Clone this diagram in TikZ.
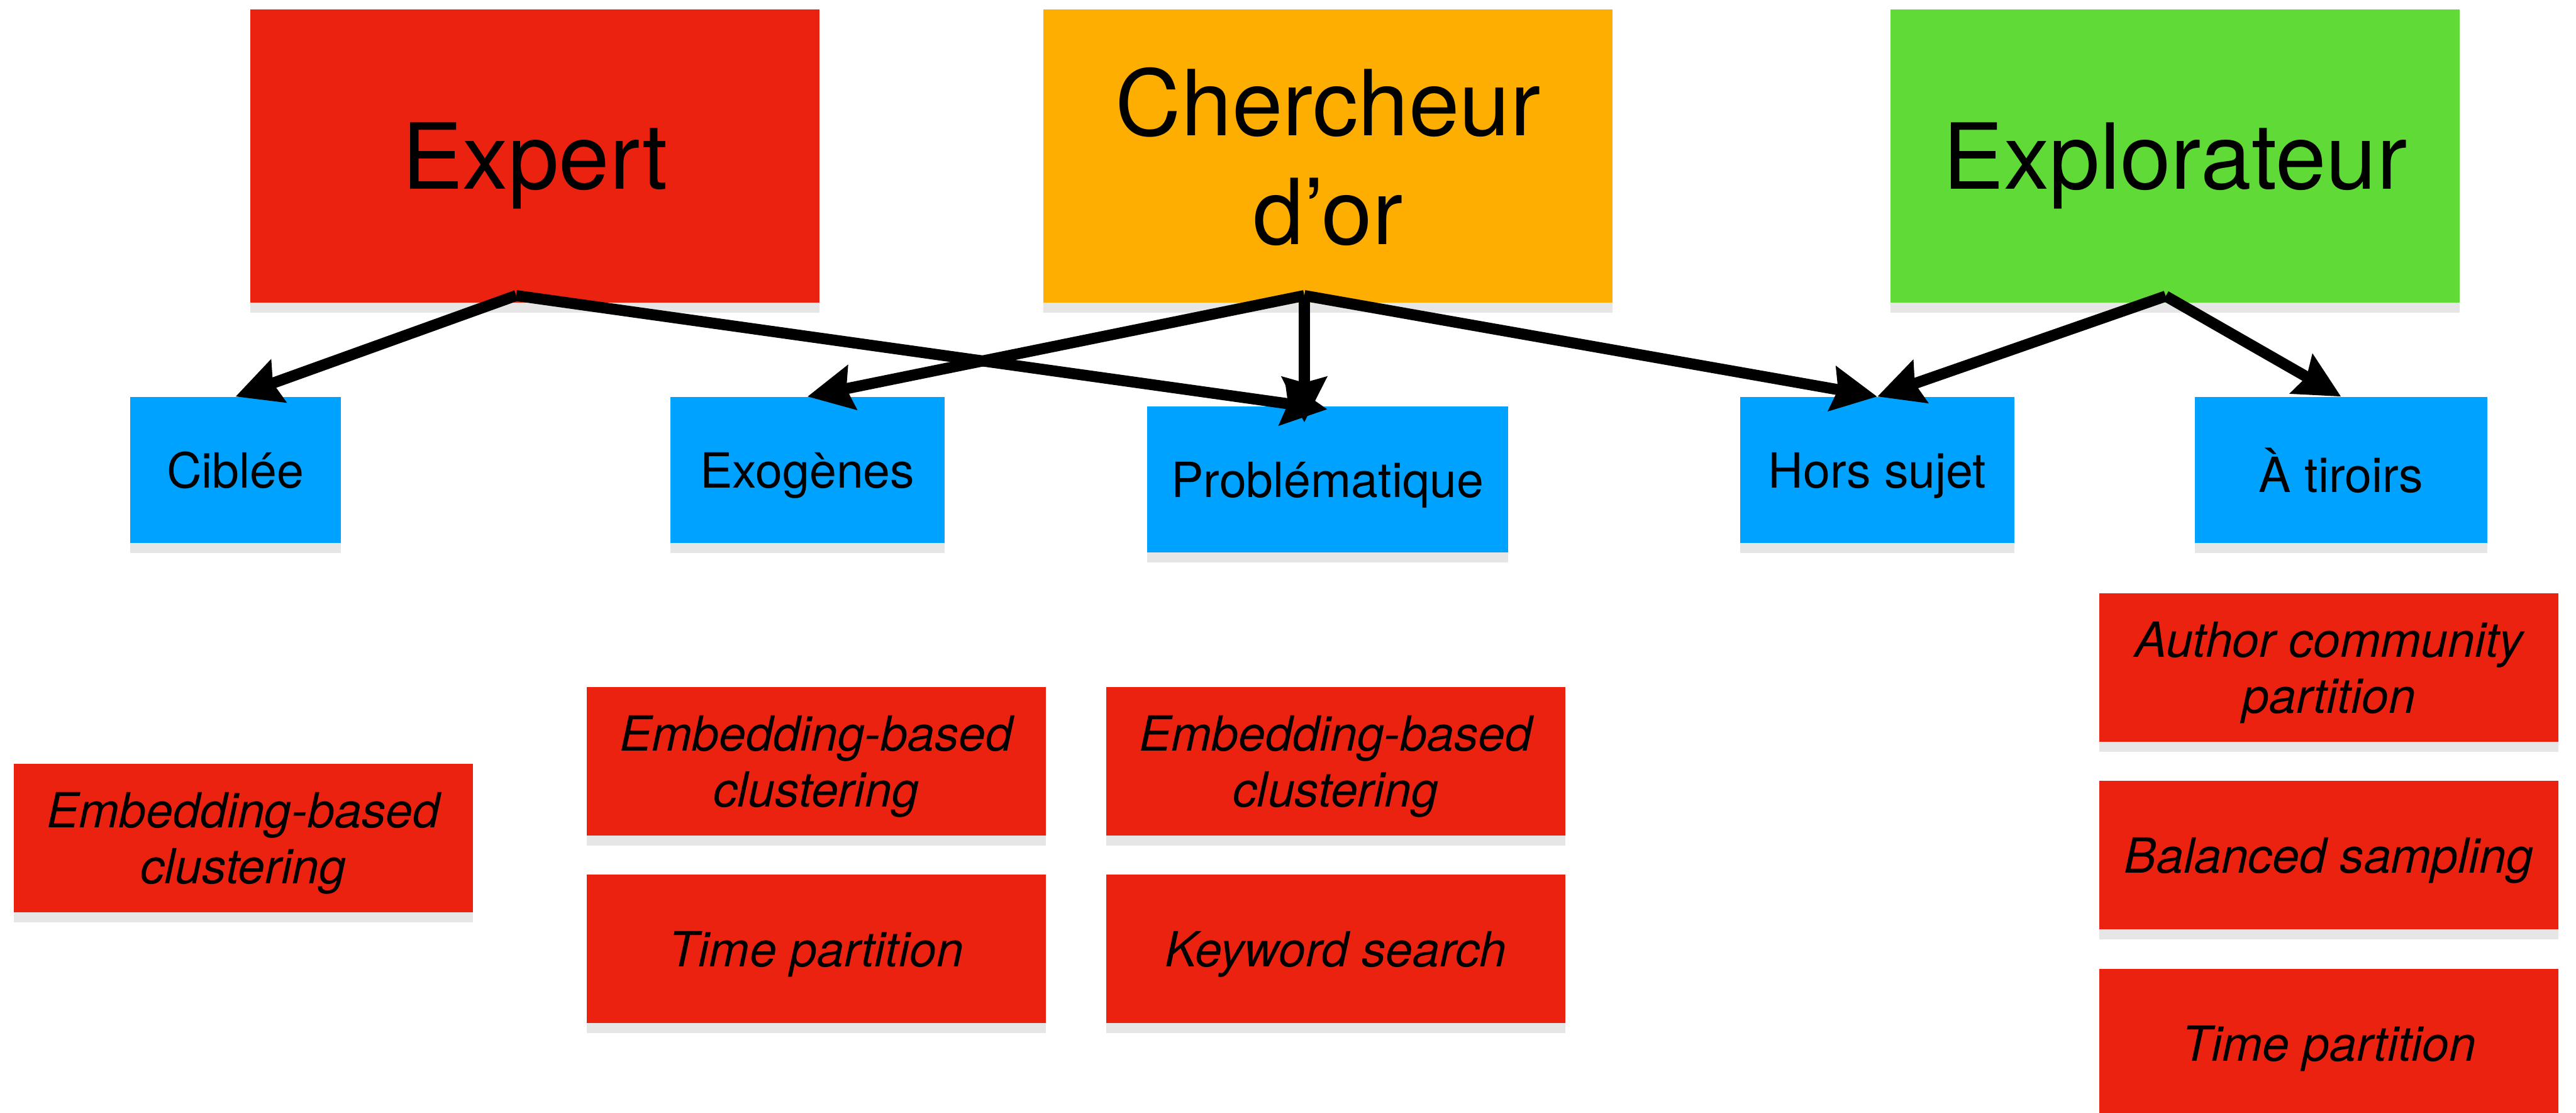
\documentclass[tikz,border=0pt]{standalone}
\usepackage{fontspec}
\setmainfont{TeX Gyre Heros}
\usetikzlibrary{positioning,arrows.meta,shadows}
\definecolor{keyred}{RGB}{236, 34, 16}
\definecolor{keyorange}{RGB}{253, 174, 0}
\definecolor{keygreen}{RGB}{95, 218, 55}
\definecolor{keyblue}{RGB}{0, 162, 255}

\begin{document}
\begin{tikzpicture}[
    box/.style={rectangle, inner sep=0pt, align=center, text=black, text depth=0pt,
        drop shadow={shadow xshift=0pt, shadow yshift=-0.18cm, opacity=0.2}},
    profile/.style={box, minimum width=10.32cm, minimum height=5.32cm, font=\fontsize{47}{56}\selectfont},
    typebox/.style={box, fill=keyblue, minimum height=2.65cm, font=\fontsize{25}{30}\selectfont},
    method/.style={box, fill=keyred, minimum width=8.32cm, minimum height=2.69cm, font=\fontsize{25}{29}\selectfont\itshape},
    link/.style={-{Stealth[length=0.82cm, width=0.8cm, inset=0.1cm]}, line width=0.2cm}]

    \useasboundingbox (0,0) rectangle (46.71,-20.17);

    \node [profile, fill=keyred] (expert) at (9.70,-2.83) {Expert};
    \node [profile, fill=keyorange] (chercheur) at (24.08,-2.83) {Chercheur\\d’or};
    \node [profile, fill=keygreen] (explorateur) at (39.44,-2.83) {Explorateur};

    \node [typebox, minimum width=3.83cm] (ciblee) at (4.27,-8.52) {Ciblée};
    \node [typebox, minimum width=4.97cm] (exogenes) at (14.64,-8.52) {Exogènes};
    \node [typebox, minimum width=6.55cm] (problematique) at (24.07,-8.69) {Problématique};
    \node [typebox, minimum width=4.97cm] (horssujet) at (34.04,-8.52) {Hors sujet};
    \node [typebox, minimum width=5.31cm] (tiroirs) at (42.45,-8.52) {À tiroirs};

    \node [method] (ciblee-emb) at (4.41,-15.19) {Embedding-based\\clustering};
    \node [method] (exo-emb) at (14.80,-13.80) {Embedding-based\\clustering};
    \node [method] (exo-time) at (14.80,-17.20) {Time partition};
    \node [method] (prob-emb) at (24.22,-13.80) {Embedding-based\\clustering};
    \node [method] (prob-key) at (24.22,-17.20) {Keyword search};
    \node [method] (tir-author) at (42.23,-12.10) {Author community\\partition};
    \node [method] (tir-balanced) at (42.23,-15.50) {Balanced sampling};
    \node [method] (tir-time) at (42.23,-18.91) {Time partition};

    \coordinate (expert-o) at ([xshift=-0.34cm, yshift=0.14cm]expert.south);
    \coordinate (chercheur-o) at ([xshift=-0.43cm, yshift=0.14cm]chercheur.south);
    \coordinate (explorateur-o) at ([xshift=-0.17cm, yshift=0.13cm]explorateur.south);

    \draw [link] (expert-o) -- (ciblee.north);
    \draw [link] (expert-o) -- ([yshift=-0.06cm]problematique.north);
    \draw [link] (chercheur-o) -- (exogenes.north);
    \draw [link] (chercheur-o) -- ([yshift=-0.3cm]chercheur-o |- problematique.north);
    \draw [link] (chercheur-o) -- (horssujet.north);
    \draw [link] (explorateur-o) -- (horssujet.north);
    \draw [link] (explorateur-o) -- (tiroirs.north);
\end{tikzpicture}
\end{document}
